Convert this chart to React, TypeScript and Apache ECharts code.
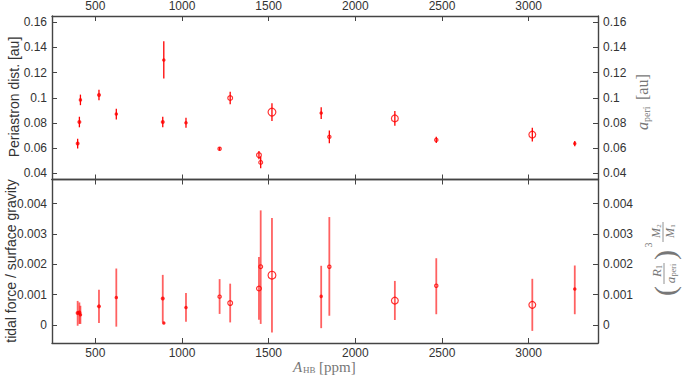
import React, { useEffect, useRef } from "react";
import * as echarts from "echarts";

const xPpm = [398, 408, 414, 521, 621, 889, 895, 1023, 1217, 1278, 1444, 1454, 1519, 1803, 1850, 2228, 2467, 3021, 3266];
const aPeri = [0.0636, 0.0807, 0.0983, 0.1022, 0.087, 0.0807, 0.1301, 0.0801, 0.0594, 0.0998, 0.0544, 0.0486, 0.0886, 0.0878, 0.0689, 0.0836, 0.0665, 0.0707, 0.0636];
const aPeriErr = [0.0039, 0.0042, 0.0042, 0.0042, 0.0042, 0.0042, 0.0148, 0.0039, 0.0013, 0.0049, 0.0032, 0.0046, 0.0071, 0.0046, 0.005, 0.0059, 0.0024, 0.0055, 0.0021];
const tidal = [0.00039, 0.00041, 0.00033, 0.00061, 0.0009, 0.00087, 0.00006, 0.00057, 0.00093, 0.00072, 0.0012, 0.00192, 0.00164, 0.00094, 0.00192, 0.0008, 0.00129, 0.00066, 0.00118];
const tidalLo = [-0.00003, 0.00003, 0.00003, 0.00006, -0.00006, 0.00008, 0.00004, 0.0001, 0.00036, 0.00008, 0.00017, 0.00003, -0.00025, -0.00011, 0.0003, 0.00016, 0.00035, -0.0002, 0.00035];
const tidalHi = [0.00079, 0.00074, 0.00063, 0.00116, 0.00186, 0.00165, 0.00008, 0.00105, 0.00151, 0.00136, 0.00224, 0.00378, 0.00353, 0.00195, 0.00356, 0.00145, 0.0022, 0.00152, 0.00196];
const markerDiameter = [4, 4, 3.5, 4, 3.5, 4, 3.5, 3.5, 4.5, 6, 6, 5, 9, 3.5, 4.5, 8, 4.5, 8, 3.5];

const xTicks = [500, 1000, 1500, 2000, 2500, 3000];
const aTicks = [0.04, 0.06, 0.08, 0.1, 0.12, 0.14, 0.16];
const tTicks = [0, 0.001, 0.002, 0.003, 0.004];

const RED = "#ff0000";
const AX = "#444";
const LBL = "#333";
const MATH = "#777";
const SANS = "Liberation Sans, Arial, sans-serif";
const SERIF = "Liberation Serif, DejaVu Serif, serif";

function errRender(color: string, width: number) {
  return (params: any, api: any) => {
    const x = api.value(0);
    const p1 = api.coord([x, api.value(1)]);
    const p2 = api.coord([x, api.value(2)]);
    return {
      type: "line",
      shape: { x1: p1[0], y1: p1[1], x2: p2[0], y2: p2[1] },
      style: { stroke: color, lineWidth: width },
    };
  };
}

function markers(ys: number[]) {
  return xPpm.map((x, i) => {
    const d = markerDiameter[i];
    const filled = d < 4.5;
    return {
      value: [x, ys[i]],
      symbolSize: filled ? d : d - 1.2,
      itemStyle: {
        color: filled ? RED : "rgba(255,255,255,0)",
        borderColor: RED,
        borderWidth: filled ? 0 : 1.2,
      },
    };
  });
}

function xAxis(grid: number, position: string, labels: boolean) {
  return {
    type: "value",
    gridIndex: grid,
    position,
    min: 250,
    max: 3400,
    axisLine: { show: true, onZero: false, lineStyle: { color: AX, width: 1.4 } },
    axisTick: { show: true, inside: true, length: 5, customValues: xTicks, lineStyle: { color: AX, width: 1 } },
    axisLabel: {
      show: labels,
      customValues: xTicks,
      margin: 4,
      color: LBL,
      fontSize: 12,
      fontFamily: SANS,
      formatter: (v: number) => String(v),
    },
    splitLine: { show: false },
  };
}

function yAxis(grid: number, position: string, min: number, max: number, ticks: number[]) {
  return {
    type: "value",
    gridIndex: grid,
    position,
    min,
    max,
    axisLine: { show: true, onZero: false, lineStyle: { color: AX, width: 1.4 } },
    axisTick: { show: true, inside: true, length: 5, customValues: ticks, lineStyle: { color: AX, width: 1 } },
    axisLabel: {
      show: true,
      customValues: ticks,
      margin: 5,
      color: LBL,
      fontSize: 12,
      fontFamily: SANS,
      formatter: (v: number) => String(parseFloat(v.toFixed(5))),
    },
    splitLine: { show: false },
  };
}

function txt(text: string, x: number, y: number, font: string, color: string, align = "left") {
  return {
    type: "text",
    x,
    y,
    style: {
      text,
      font,
      fill: color,
      align,
      verticalAlign: "middle",
      textAlign: align,
      textVerticalAlign: "middle",
    },
  };
}

function hline(x1: number, x2: number, y: number, color: string) {
  return { type: "line", shape: { x1, y1: y, x2, y2: y }, style: { stroke: color, lineWidth: 0.8 } };
}

export default function App() {
  const ref = useRef<HTMLDivElement>(null);
  useEffect(() => {
    if (!ref.current) return;
    const chart = echarts.init(ref.current, null, { renderer: "svg" });
    const option: any = {
      animation: false,
      backgroundColor: "#fff",
      grid: [
        { left: 52, right: 96, top: 15, bottom: 198.5 },
        { left: 52, right: 96, top: 179.5, bottom: 35 },
      ],
      xAxis: [
        xAxis(0, "top", true),
        xAxis(0, "bottom", false),
        xAxis(1, "top", false),
        xAxis(1, "bottom", true),
      ],
      yAxis: [
        yAxis(0, "left", 0.035, 0.165, aTicks),
        yAxis(0, "right", 0.035, 0.165, aTicks),
        yAxis(1, "left", -0.0006, 0.0048, tTicks),
        yAxis(1, "right", -0.0006, 0.0048, tTicks),
      ],
      series: [
        {
          type: "custom",
          xAxisIndex: 0,
          yAxisIndex: 0,
          renderItem: errRender(RED, 1.3),
          data: xPpm.map((x, i) => [x, aPeri[i] - aPeriErr[i], aPeri[i] + aPeriErr[i]]),
          z: 2,
        },
        {
          type: "scatter",
          xAxisIndex: 0,
          yAxisIndex: 0,
          data: markers(aPeri),
          z: 3,
        },
        {
          type: "custom",
          xAxisIndex: 3,
          yAxisIndex: 2,
          renderItem: errRender("rgba(255,0,0,0.62)", 1.8),
          data: xPpm.map((x, i) => [x, tidalLo[i], tidalHi[i]]),
          z: 2,
        },
        {
          type: "scatter",
          xAxisIndex: 3,
          yAxisIndex: 2,
          data: markers(tidal),
          z: 3,
        },
      ],
      graphic: [
        {
          type: "text",
          x: 14,
          y: 97,
          rotation: Math.PI / 2,
          style: {
            text: "Periastron dist. [au]",
            font: "14px " + SANS,
            fill: LBL,
            align: "center",
            verticalAlign: "middle",
            textAlign: "center",
            textVerticalAlign: "middle",
          },
        },
        {
          type: "text",
          x: 11,
          y: 261,
          rotation: Math.PI / 2,
          style: {
            text: "tidal force / surface gravity",
            font: "14px " + SANS,
            fill: LBL,
            align: "center",
            verticalAlign: "middle",
            textAlign: "center",
            textVerticalAlign: "middle",
          },
        },
        {
          type: "group",
          x: 293,
          y: 367,
          children: [
            txt("A", 0, 0, "italic 15px " + SERIF, MATH),
            txt("HB", 10, 3, "9px " + SERIF, MATH),
            txt("[ppm]", 26, 0, "15px " + SERIF, MATH),
          ],
        },
        {
          type: "group",
          x: 642,
          y: 97,
          rotation: Math.PI / 2,
          children: [
            txt("a", -33, 0, "italic 16px " + SERIF, MATH),
            txt("peri", -25, 4, "10px " + SERIF, MATH),
            txt("[au]", -3, 0, "16px " + SERIF, MATH),
          ],
        },
        {
          type: "group",
          x: 664,
          y: 260,
          rotation: Math.PI / 2,
          children: [
            txt("(", -31, 0, "30px " + SERIF, MATH, "center"),
            txt("R", -13, -8, "italic 13px " + SERIF, MATH, "center"),
            txt("1", -7, -5, "8px " + SERIF, MATH, "center"),
            hline(-24, -3, 0, MATH),
            txt("a", -20, 6, "italic 13px " + SERIF, MATH, "center"),
            txt("peri", -10, 9, "8px " + SERIF, MATH, "center"),
            txt(")", 5, 0, "30px " + SERIF, MATH, "center"),
            txt("3", 15, -16, "10px " + SERIF, MATH, "center"),
            txt("M", 27, -8, "italic 12px " + SERIF, MATH, "center"),
            txt("2", 34, -5, "7px " + SERIF, MATH, "center"),
            hline(18, 38, -1, MATH),
            txt("M", 27, 6, "italic 12px " + SERIF, MATH, "center"),
            txt("1", 34, 9, "7px " + SERIF, MATH, "center"),
          ],
        },
      ],
    };
    chart.setOption(option);
    return () => chart.dispose();
  }, []);
  return (
    <div
      ref={ref}
      style={{ position: "fixed", left: 0, top: 0, width: 694, height: 378 }}
    />
  );
}
